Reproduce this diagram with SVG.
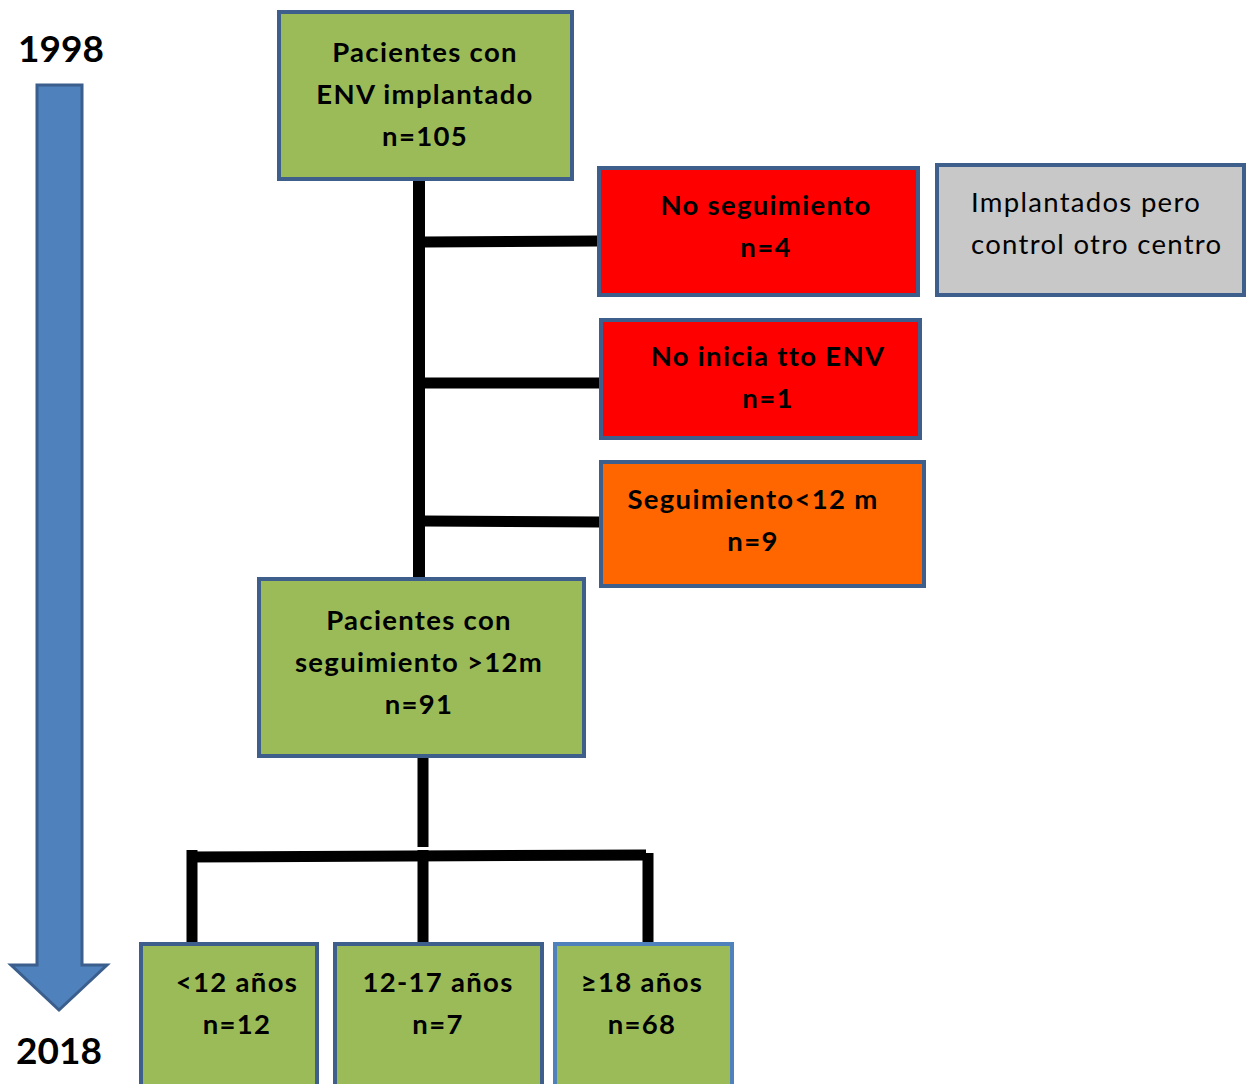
<svg xmlns="http://www.w3.org/2000/svg" width="1247" height="1084" viewBox="0 0 1247 1084">
<style>
.box{stroke:#3E5F8C;stroke-width:4}
.g{fill:#9BBB59}.r{fill:#FF0000}.o{fill:#FF6600}.gr{fill:#C8C8C8}
text{font-family:Lato,"Open Sans","Liberation Sans",sans-serif;font-size:27.5px;fill:#000;letter-spacing:1.3px}
.b{font-weight:bold;text-anchor:middle}
.yr{font-weight:bold;font-size:37px;letter-spacing:0}
.ln{stroke:#000;fill:none;stroke-width:11}
</style>
<rect width="1247" height="1084" fill="#fff"/>
<g id="timeline">
<path d="M37,85 H82 V965 H107 L59,1010 L11,965 H37 Z" fill="#4F81BD" stroke="#3B5E8C" stroke-width="3"/>
<text class="yr" x="18" y="62">1998</text>
<text class="yr" x="16" y="1064">2018</text>
</g>
<g id="connectors">
<line class="ln" x1="419" y1="179" x2="419" y2="578" style="stroke-width:12"/>
<line class="ln" x1="425" y1="242" x2="598" y2="241"/>
<line class="ln" x1="425" y1="383" x2="600" y2="383"/>
<line class="ln" x1="425" y1="521" x2="600" y2="522"/>
<line class="ln" x1="423" y1="756" x2="423" y2="847"/>
<line class="ln" x1="187" y1="857" x2="646" y2="855"/>
<line class="ln" x1="192" y1="850" x2="192" y2="943"/>
<line class="ln" x1="423" y1="850" x2="423" y2="943"/>
<line class="ln" x1="648" y1="853" x2="648" y2="943"/>
</g>
<g id="n105">
<rect class="box g" x="279" y="12" width="293" height="167"/>
<text class="b" x="425" y="62">Pacientes con</text>
<text class="b" x="425" y="104">ENV implantado</text>
<text class="b" x="425" y="146">n=105</text>
</g>
<g id="noseg">
<rect class="box r" x="599" y="168" width="319" height="127"/>
<text class="b" x="766" y="215">No seguimiento</text>
<text class="b" x="766" y="257">n=4</text>
</g>
<g id="otrocentro">
<rect class="box gr" x="937" y="165" width="307" height="130"/>
<text x="971" y="212">Implantados pero</text>
<text x="971" y="254">control otro centro</text>
</g>
<g id="noinicia">
<rect class="box r" x="601" y="320" width="319" height="118"/>
<text class="b" x="768" y="366">No inicia tto ENV</text>
<text class="b" x="768" y="408">n=1</text>
</g>
<g id="seg12">
<rect class="box o" x="601" y="462" width="323" height="124"/>
<text class="b" x="753" y="509">Seguimiento&lt;12 m</text>
<text class="b" x="753" y="551">n=9</text>
</g>
<g id="n91">
<rect class="box g" x="259" y="579" width="325" height="177"/>
<text class="b" x="419" y="630">Pacientes con</text>
<text class="b" x="419" y="672">seguimiento &gt;12m</text>
<text class="b" x="419" y="714">n=91</text>
</g>
<g id="menor12">
<rect class="box g" x="141" y="944" width="176" height="145"/>
<text class="b" x="237" y="992">&lt;12 años</text>
<text class="b" x="237" y="1034">n=12</text>
</g>
<g id="de12a17">
<rect class="box g" x="335" y="944" width="207" height="145"/>
<text class="b" x="438" y="992">12-17 años</text>
<text class="b" x="438" y="1034">n=7</text>
</g>
<g id="mayor18">
<rect class="box g" x="555" y="944" width="177" height="145" style="stroke:#4F81BD"/>
<text class="b" x="642" y="992">≥18 años</text>
<text class="b" x="642" y="1034">n=68</text>
</g>
</svg>
